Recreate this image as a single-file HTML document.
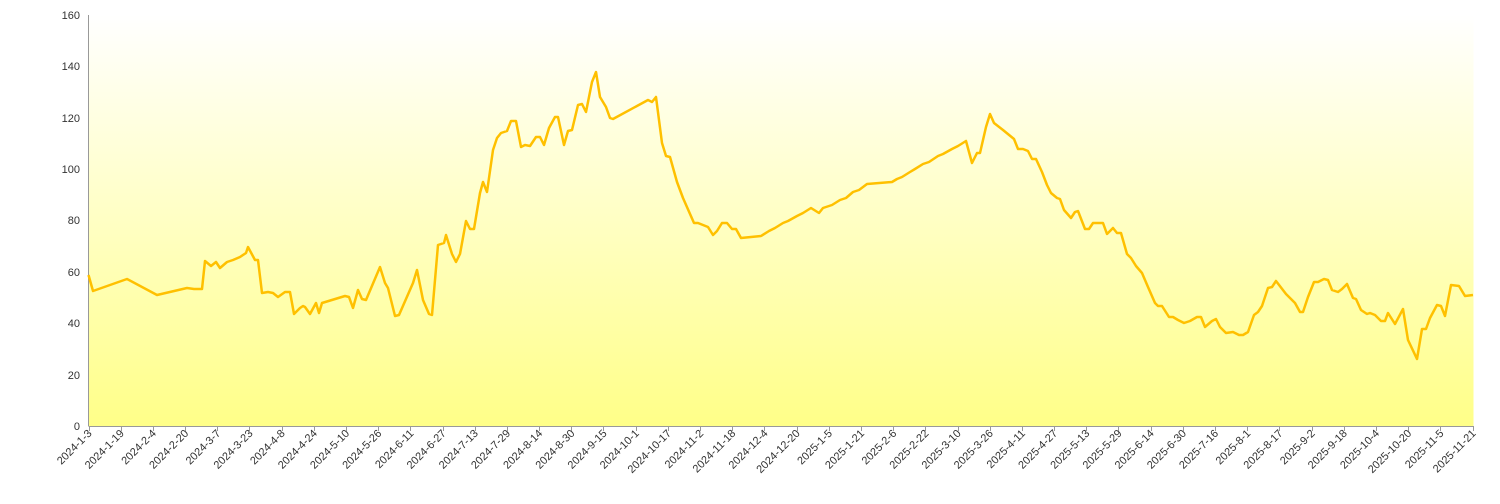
<!DOCTYPE html>
<html><head><meta charset="utf-8"><style>
html,body{margin:0;padding:0;background:#fff;}
svg{display:block;font-family:"Liberation Sans",Arial,sans-serif;}
</style></head><body>
<svg width="1500" height="504" viewBox="0 0 1500 504">
<defs><linearGradient id="g" x1="0" y1="0" x2="0" y2="1">
<stop offset="0" stop-color="#ffffff"/><stop offset="1" stop-color="#ffff88"/></linearGradient></defs>
<rect x="88.5" y="15" width="1385" height="411" fill="url(#g)"/>
<g stroke="#999" stroke-width="1">
<line x1="88.5" y1="15" x2="88.5" y2="426"/>
<line x1="88.5" y1="426.5" x2="1473" y2="426.5"/>
</g>
<g id="ticks" stroke="#999" stroke-width="1"></g>
<g font-size="11" fill="#333" text-anchor="end" id="yl">
<text x="80" y="430">0</text><text x="80" y="379">20</text><text x="80" y="327">40</text><text x="80" y="276">60</text><text x="80" y="224">80</text><text x="80" y="173">100</text><text x="80" y="122">120</text><text x="80" y="70">140</text><text x="80" y="19">160</text>
</g>
<g id="xl" font-size="11" fill="#333" text-anchor="end"></g>
<polyline fill="none" stroke="#ffc000" stroke-width="2.5" stroke-linejoin="round" points="88.5,275 93,291 127,279 157,295 187,288 194,289 202,289 205,261 211,266 216,262 220,268 227,262 233,260 240,257 246,253 248,247 255,260 258,260 262,293 268,292 273,293 278,297 285,292 290,292 294,314 300,308 303,306 305,307 310,314 316,303 319,313 322,303 345,296 349,297 353,308 358,290 362,299 366,300 380,267 385,283 388,288 395,316 399,315 413,283 417,270 423,300 429,314 432,315 438,245 444,243 446,235 452,254 456,262 460,254 466,221 470,229 474,229 480,193 483,182 487,192 493,150 497,138 501,133 507,131 511,121 516,121 521,147 525,145 530,146 536,137 540,137 544,145 549,128 555,117 558,117 564,145 568,131 572,130 578,105 582,104 586,112 592,82 596,72 600,97 606,107 610,118 613,119 648,100 652,102 656,97 662,143 666,156 670,157 677,182 683,198 694,223 698,223 708,227 713,235 717,231 722,223 727,223 732,229 736,229 741,238 761,236 769,231 775,228 783,223 788,221 797,216 803,213 811,208 819,213 823,208 832,205 840,200 846,198 853,192 859,190 867,184 892,182 897,179 902,177 910,172 915,169 923,164 929,162 938,156 943,154 952,149 958,146 966,141 972,163 977,153 980,153 986,127 990,114 994,123 1003,130 1014,139 1018,149 1023,149 1028,151 1032,159 1036,159 1042,172 1047,185 1051,193 1057,198 1060,199 1064,210 1071,218 1075,212 1078,211 1085,229 1089,229 1093,223 1098,223 1103,223 1107,234 1113,228 1117,233 1121,233 1127,254 1131,258 1136,266 1142,273 1148,287 1155,303 1158,306 1162,306 1169,317 1173,317 1178,320 1184,323 1190,321 1197,317 1201,317 1205,327 1212,321 1216,319 1220,327 1226,333 1233,332 1239,335 1243,335 1248,332 1254,315 1258,312 1262,306 1268,288 1272,287 1276,281 1286,294 1295,303 1300,312 1303,312 1308,297 1314,282 1318,282 1324,279 1328,280 1332,290 1338,292 1342,289 1347,284 1353,298 1356,299 1361,310 1367,314 1370,313 1375,315 1381,321 1385,321 1388,313 1395,324 1403,309 1408,340 1417,359 1422,329 1426,329 1430,318 1437,305 1441,306 1445,316 1451,285 1459,286 1465,296 1473,295"/>
</svg>
<script>
var labels=["2024-1-3","2024-1-19","2024-2-4","2024-2-20","2024-3-7","2024-3-23","2024-4-8","2024-4-24","2024-5-10","2024-5-26","2024-6-11","2024-6-27","2024-7-13","2024-7-29","2024-8-14","2024-8-30","2024-9-15","2024-10-1","2024-10-17","2024-11-2","2024-11-18","2024-12-4","2024-12-20","2025-1-5","2025-1-21","2025-2-6","2025-2-22","2025-3-10","2025-3-26","2025-4-11","2025-4-27","2025-5-13","2025-5-29","2025-6-14","2025-6-30","2025-7-16","2025-8-1","2025-8-17","2025-9-2","2025-9-18","2025-10-4","2025-10-20","2025-11-5","2025-11-21"];
var ns="http://www.w3.org/2000/svg",xl=document.getElementById("xl"),tk=document.getElementById("ticks");
labels.forEach(function(l,i){var x=88.5+i*(1384/43);
var t=document.createElementNS(ns,"text");t.setAttribute("transform","translate("+(x+4)+",434) rotate(-45)");t.textContent=l;xl.appendChild(t);
var ln=document.createElementNS(ns,"line");ln.setAttribute("x1",Math.round(x)+0.5);ln.setAttribute("x2",Math.round(x)+0.5);ln.setAttribute("y1",426);ln.setAttribute("y2",431);tk.appendChild(ln);});
</script>
</body></html>
